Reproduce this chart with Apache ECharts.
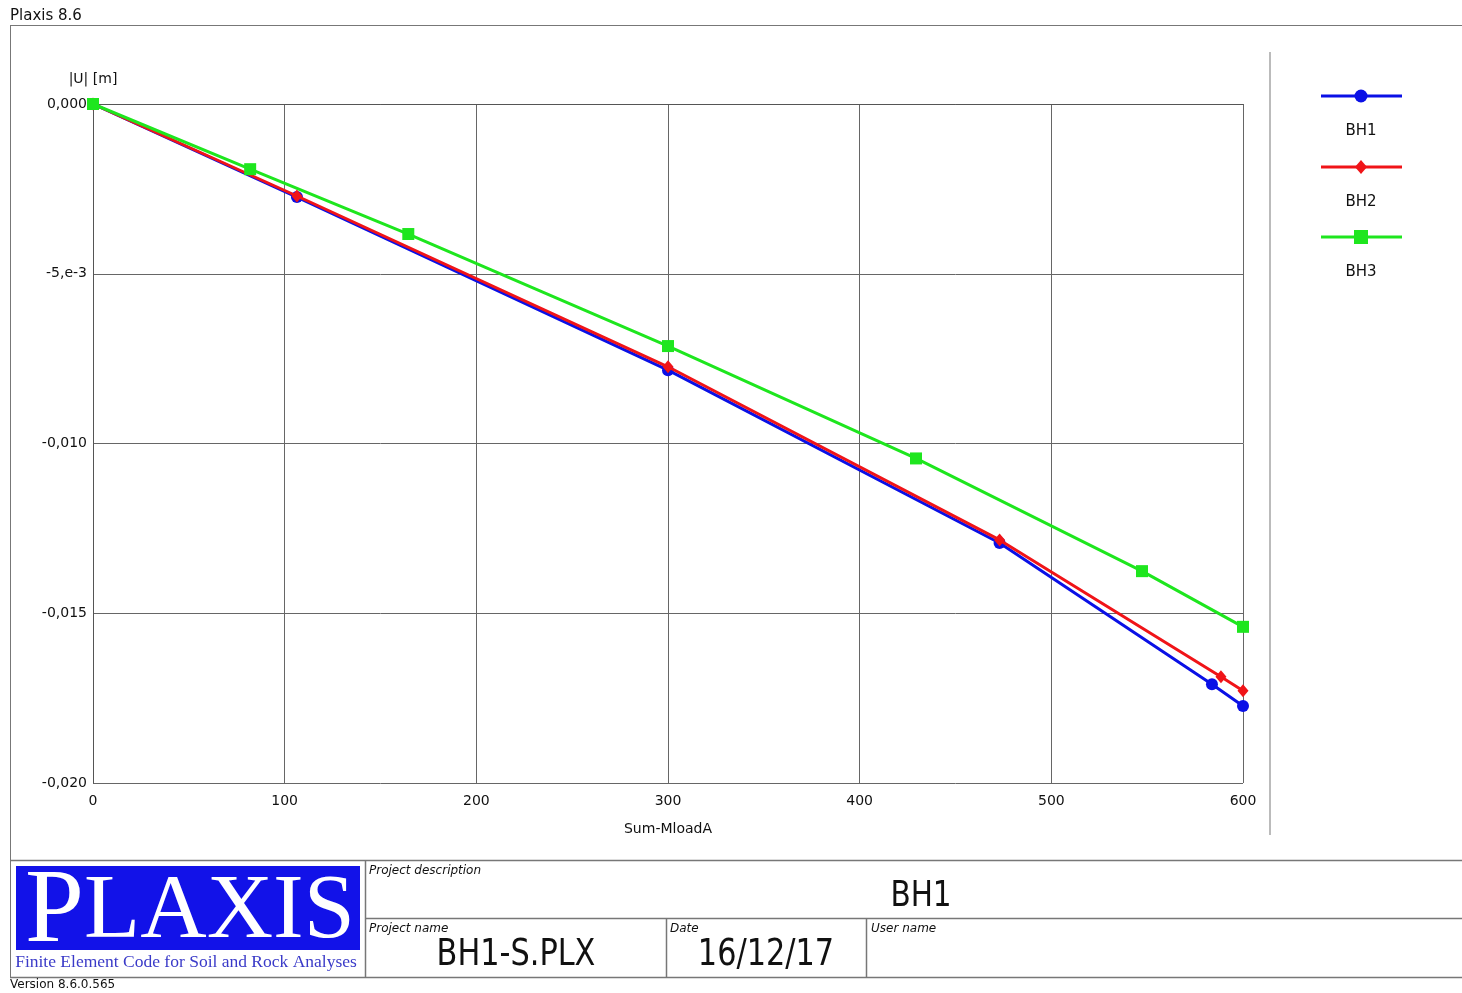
<!DOCTYPE html>
<html>
<head>
<meta charset="utf-8">
<script src="https://cdn.jsdelivr.net/npm/echarts@6/dist/echarts.min.js"></script>
<style>
  html, body { margin: 0; padding: 0; background: #fff; }
  #chart { width: 1462px; height: 993px; }
</style>
</head>
<body>
<div id="chart"></div>
<script>
// series data: load (Sum-MloadA) and displacement |U| [m]
var seriesNames = ['BH1', 'BH2', 'BH3'];
var bh1Load = [0, 106.4, 300, 473, 583.8, 600];
var bh1Disp = [0, -0.00274, -0.00784, -0.01293, -0.01709, -0.01773];
var bh2Load = [0, 106.4, 300, 473, 588.5, 600];
var bh2Disp = [0, -0.00271, -0.00774, -0.01284, -0.01687, -0.01728];
var bh3Load = [0, 82, 164.5, 300, 429.4, 547.3, 600];
var bh3Disp = [0, -0.00192, -0.00383, -0.00713, -0.01044, -0.01376, -0.0154];
var yTickValues = [0, -0.005, -0.01, -0.015, -0.02];
var yTickLabels = ['0,000', '-5,e-3', '-0,010', '-0,015', '-0,020'];

var colors = ['#0a10e6', '#f01418', '#1ee61e'];
var symbols = ['circle', 'diamond', 'rect'];
var symbolSizes = [12, [11, 13], 12];

function pairs(xs, ys) {
    var out = [];
    for (var i = 0; i < xs.length; i++) out.push([xs[i], ys[i]]);
    return out;
}

var font = 'DejaVu Sans, Verdana, sans-serif';
var myChart = echarts.init(document.getElementById('chart'));

// legend + title block drawn as graphics
var g = [];
// outer frame
g.push({ type: 'line', shape: { x1: 10, y1: 25.5, x2: 1462, y2: 25.5 }, style: { stroke: '#777', lineWidth: 1 } });
g.push({ type: 'line', shape: { x1: 10.5, y1: 25, x2: 10.5, y2: 977 }, style: { stroke: '#777', lineWidth: 1 } });
g.push({ type: 'line', shape: { x1: 1270, y1: 52, x2: 1270, y2: 835 }, style: { stroke: '#bbb', lineWidth: 2 } });
g.push({ type: 'text', left: 10, top: 9, style: { text: 'Plaxis 8.6', font: '15px ' + font, fill: '#111' } });

var legendY = [96, 167, 237];
for (var i = 0; i < 3; i++) {
    g.push({ type: 'line', shape: { x1: 1321, y1: legendY[i], x2: 1402, y2: legendY[i] }, style: { stroke: colors[i], lineWidth: 3 } });
    if (i === 0) g.push({ type: 'circle', shape: { cx: 1361, cy: legendY[i], r: 6.5 }, style: { fill: colors[i] } });
    if (i === 1) g.push({ type: 'polygon', shape: { points: [[1361, legendY[i] - 7], [1367, legendY[i]], [1361, legendY[i] + 7], [1355, legendY[i]]] }, style: { fill: colors[i] } });
    if (i === 2) g.push({ type: 'rect', shape: { x: 1354, y: legendY[i] - 7, width: 14, height: 14 }, style: { fill: colors[i] } });
    g.push({ type: 'text', x: 1361, y: legendY[i] + 35, style: { text: seriesNames[i], font: '15px ' + font, fill: '#111', align: 'center', verticalAlign: 'middle' } });
}

// bottom information panel
var lc = '#777';
g.push({ type: 'line', shape: { x1: 10, y1: 860.5, x2: 1462, y2: 860.5 }, style: { stroke: lc, lineWidth: 1.5 } });
g.push({ type: 'line', shape: { x1: 365, y1: 918.5, x2: 1462, y2: 918.5 }, style: { stroke: lc, lineWidth: 1.5 } });
g.push({ type: 'line', shape: { x1: 10, y1: 977.5, x2: 1462, y2: 977.5 }, style: { stroke: lc, lineWidth: 1.5 } });
g.push({ type: 'line', shape: { x1: 365.5, y1: 860, x2: 365.5, y2: 977 }, style: { stroke: lc, lineWidth: 1.5 } });
g.push({ type: 'line', shape: { x1: 666.5, y1: 918, x2: 666.5, y2: 977 }, style: { stroke: lc, lineWidth: 1.5 } });
g.push({ type: 'line', shape: { x1: 866.5, y1: 918, x2: 866.5, y2: 977 }, style: { stroke: lc, lineWidth: 1.5 } });

g.push({ type: 'rect', shape: { x: 16, y: 866, width: 344, height: 84 }, style: { fill: '#1212e8' } });
g.push({ type: 'text', x: 190, y: 913, style: {
    text: '{p|P}{r|LAXIS}', align: 'center', verticalAlign: 'middle',
    rich: {
        p: { font: '106px "Liberation Serif", serif', fill: '#fff' },
        r: { font: '92px "Liberation Serif", serif', fill: '#fff' }
    }
} });
g.push({ type: 'text', x: 186, y: 962, style: { text: 'Finite Element Code for Soil and Rock Analyses', font: '17.5px "Liberation Serif", serif', fill: '#3a3ac8', align: 'center', verticalAlign: 'middle' } });

g.push({ type: 'text', left: 369, top: 865, style: { text: 'Project description', font: 'italic 12px ' + font, fill: '#111' } });
g.push({ type: 'text', x: 921, y: 897, scaleX: 0.82, style: { text: 'BH1', font: '36px ' + font, fill: '#111', align: 'center', verticalAlign: 'middle' } });
g.push({ type: 'text', left: 369, top: 923, style: { text: 'Project name', font: 'italic 12px ' + font, fill: '#111' } });
g.push({ type: 'text', x: 516, y: 955, scaleX: 0.82, style: { text: 'BH1-S.PLX', font: '37px ' + font, fill: '#111', align: 'center', verticalAlign: 'middle' } });
g.push({ type: 'text', left: 670, top: 923, style: { text: 'Date', font: 'italic 12px ' + font, fill: '#111' } });
g.push({ type: 'text', x: 766, y: 955, scaleX: 0.82, style: { text: '16/12/17', font: '37px ' + font, fill: '#111', align: 'center', verticalAlign: 'middle' } });
g.push({ type: 'text', left: 871, top: 923, style: { text: 'User name', font: 'italic 12px ' + font, fill: '#111' } });
g.push({ type: 'text', left: 10, top: 979, style: { text: 'Version 8.6.0.565', font: '12px ' + font, fill: '#111' } });

var dataSets = [pairs(bh1Load, bh1Disp), pairs(bh2Load, bh2Disp), pairs(bh3Load, bh3Disp)];
var series = [];
for (var k = 0; k < 3; k++) {
    series.push({
        name: seriesNames[k],
        type: 'line',
        data: dataSets[k],
        symbol: symbols[k],
        symbolSize: symbolSizes[k],
        showAllSymbol: true,
        z: 2 + k,
        lineStyle: { color: colors[k], width: 3 },
        itemStyle: { color: colors[k] },
        animation: false
    });
}

myChart.setOption({
    animation: false,
    grid: { left: 93, top: 104, right: 219, bottom: 210 },
    xAxis: {
        type: 'value',
        min: 0, max: 600, interval: 100,
        name: 'Sum-MloadA',
        nameLocation: 'middle',
        nameGap: 39,
        nameTextStyle: { fontFamily: font, fontSize: 14, color: '#111' },
        axisLine: { show: true, lineStyle: { color: '#555', width: 1 } },
        axisTick: { show: false },
        axisLabel: { fontFamily: font, fontSize: 14, color: '#111', margin: 11 },
        splitLine: { show: true, lineStyle: { color: '#666', width: 1 } }
    },
    yAxis: {
        type: 'value',
        min: -0.02, max: 0, interval: 0.005,
        name: '|U| [m]',
        nameLocation: 'end',
        nameGap: 18,
        nameTextStyle: { fontFamily: font, fontSize: 14, color: '#111' },
        axisLine: { show: true, lineStyle: { color: '#555', width: 1 } },
        axisTick: { show: false },
        axisLabel: {
            fontFamily: font, fontSize: 14, color: '#111', margin: 6,
            formatter: function (v) {
                for (var i = 0; i < yTickValues.length; i++) {
                    if (Math.abs(v - yTickValues[i]) < 1e-9) return yTickLabels[i];
                }
                return '';
            }
        },
        splitLine: { show: true, lineStyle: { color: '#666', width: 1 } }
    },
    graphic: g,
    series: series
});
</script>
</body>
</html>
